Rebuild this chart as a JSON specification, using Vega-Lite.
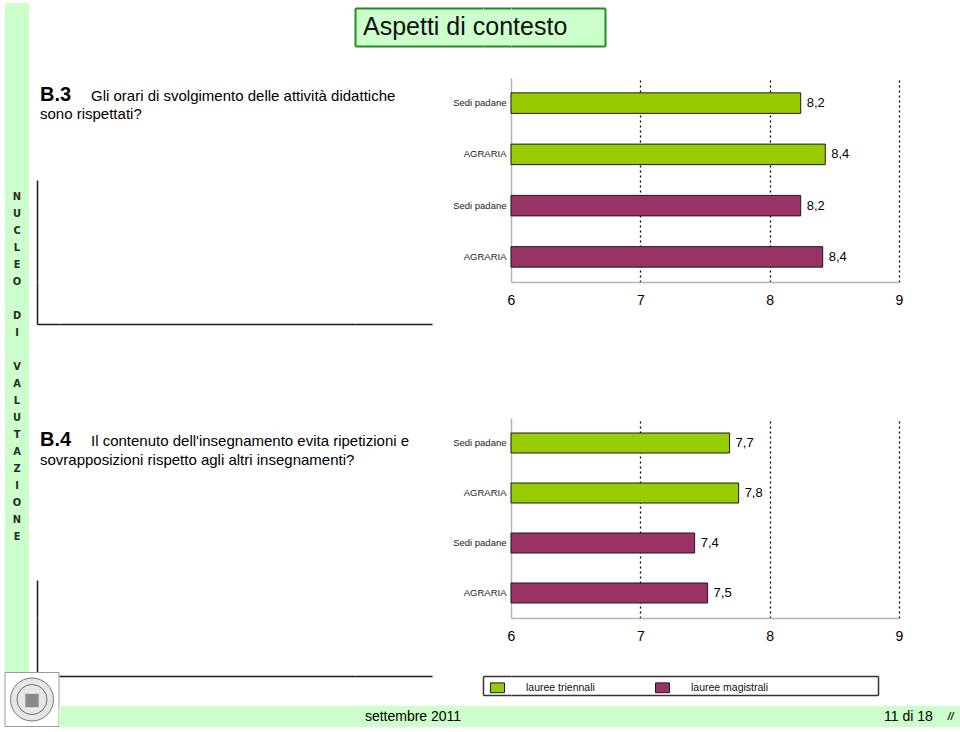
{
  "$schema": "https://vega.github.io/schema/vega-lite/v6.json",
  "background": "white",
  "padding": {"left": 3, "top": 3, "right": 0, "bottom": 0},
  "columns": 8,
  "spacing": 0,
  "bounds": "flush",
  "align": "each",
  "resolve": {"scale": {"color": "independent"}, "legend": {"color": "independent"}},
  "config": {
    "font": "Liberation Sans",
    "view": {"stroke": null},
    "locale": {"number": {"decimal": ",", "thousands": ".", "grouping": [3], "currency": ["€", ""]}}
  },
  "concat": [
    {"width": 24, "height": 5, "data": {"values": [{}]}, "mark": {"type": "point", "opacity": 0, "size": 0}, "view": {"fill": "#ccffcc"}},
    {"width": 1, "height": 1, "data": {"values": [{}]}, "mark": {"type": "point", "opacity": 0, "size": 0}},
    {"width": 1, "height": 1, "data": {"values": [{}]}, "mark": {"type": "point", "opacity": 0, "size": 0}},
    {"width": 1, "height": 1, "data": {"values": [{}]}, "mark": {"type": "point", "opacity": 0, "size": 0}},
    {"width": 1, "height": 1, "data": {"values": [{}]}, "mark": {"type": "point", "opacity": 0, "size": 0}},
    {"width": 1, "height": 1, "data": {"values": [{}]}, "mark": {"type": "point", "opacity": 0, "size": 0}},
    {"width": 1, "height": 1, "data": {"values": [{}]}, "mark": {"type": "point", "opacity": 0, "size": 0}},
    {"width": 1, "height": 1, "data": {"values": [{}]}, "mark": {"type": "point", "opacity": 0, "size": 0}},

    {"width": 24, "height": 38, "data": {"values": [{}]}, "mark": {"type": "point", "opacity": 0, "size": 0}, "view": {"fill": "#ccffcc"}},
    {"width": 1, "height": 1, "data": {"values": [{}]}, "mark": {"type": "point", "opacity": 0, "size": 0}},
    {"width": 1, "height": 1, "data": {"values": [{}]}, "mark": {"type": "point", "opacity": 0, "size": 0}},
    {"width": 1, "height": 1, "data": {"values": [{}]}, "mark": {"type": "point", "opacity": 0, "size": 0}},
    {"width": 128, "height": 38, "view": {"fill": "#ccffcc"}, "data": {"values": [{}]},
     "mark": {"type": "point", "opacity": 0, "size": 0},
     "encoding": {"y": {"datum": 0, "type": "quantitative", "scale": {"domain": [0, 1]},
       "axis": {"orient": "left", "title": null, "labels": false, "ticks": false, "values": [0, 1], "grid": true, "gridColor": "#228b22", "gridWidth": 2, "gridOpacity": 1, "domainColor": "#228b22", "domainWidth": 2}}}},
    {"width": 28, "height": 38, "view": {"fill": "#ccffcc"}, "data": {"values": [{}]},
     "mark": {"type": "point", "opacity": 0, "size": 0},
     "encoding": {"y": {"datum": 0, "type": "quantitative", "scale": {"domain": [0, 1]},
       "axis": {"orient": "left", "title": null, "labels": false, "ticks": false, "values": [0, 1], "grid": true, "gridColor": "#228b22", "gridWidth": 2, "gridOpacity": 1, "domain": false}}}},
    {"width": 94, "height": 38, "view": {"fill": "#ccffcc"}, "data": {"values": [{"t": "Aspetti di contesto"}]},
     "layer": [
       {"mark": {"type": "point", "opacity": 0, "size": 0},
        "encoding": {"y": {"datum": 0, "type": "quantitative", "scale": {"domain": [0, 1]},
          "axis": {"orient": "right", "title": null, "labels": false, "ticks": false, "values": [0, 1], "grid": true, "gridColor": "#228b22", "gridWidth": 2, "gridOpacity": 1, "domainColor": "#228b22", "domainWidth": 2}}}},
       {"mark": {"type": "text", "fontSize": 25, "align": "left", "baseline": "alphabetic", "dx": -195, "dy": 8, "color": "#111"}, "encoding": {"text": {"field": "t"}}}
     ]},
    {"width": 1, "height": 1, "data": {"values": [{}]}, "mark": {"type": "point", "opacity": 0, "size": 0}},

    {"width": 24, "height": 32, "data": {"values": [{}]}, "mark": {"type": "point", "opacity": 0, "size": 0}, "view": {"fill": "#ccffcc"}},
    {"width": 1, "height": 1, "data": {"values": [{}]}, "mark": {"type": "point", "opacity": 0, "size": 0}},
    {"width": 1, "height": 1, "data": {"values": [{}]}, "mark": {"type": "point", "opacity": 0, "size": 0}},
    {"width": 1, "height": 1, "data": {"values": [{}]}, "mark": {"type": "point", "opacity": 0, "size": 0}},
    {"width": 1, "height": 1, "data": {"values": [{}]}, "mark": {"type": "point", "opacity": 0, "size": 0}},
    {"width": 1, "height": 1, "data": {"values": [{}]}, "mark": {"type": "point", "opacity": 0, "size": 0}},
    {"width": 1, "height": 1, "data": {"values": [{}]}, "mark": {"type": "point", "opacity": 0, "size": 0}},
    {"width": 1, "height": 1, "data": {"values": [{}]}, "mark": {"type": "point", "opacity": 0, "size": 0}},

    {"width": 24, "height": 204, "data": {"values": [{}]}, "mark": {"type": "point", "opacity": 0, "size": 0}, "view": {"fill": "#ccffcc"}},
    {"width": 8, "height": 1, "data": {"values": [{}]}, "mark": {"type": "point", "opacity": 0, "size": 0}},
    {"width": 22, "height": 204,
     "data": {"values": [{"b": "B.3", "l1": "Gli orari di svolgimento delle attività didattiche", "l2": "sono rispettati?"}]},
     "layer": [
       {"mark": {"type": "point", "opacity": 0, "size": 0},
        "encoding": {"y": {"datum": 0, "type": "quantitative", "scale": {"domain": [0, 1], "range": [204, 102]},
          "axis": {"title": null, "labels": false, "ticks": false, "grid": false, "domainColor": "#1a1a1a", "domainWidth": 1.5}}}},
       {"mark": {"type": "text", "fontWeight": "bold", "fontSize": 20, "align": "left", "baseline": "alphabetic", "dx": -8, "dy": -79, "color": "#000"}, "encoding": {"text": {"field": "b"}}},
       {"mark": {"type": "text", "fontSize": 15, "align": "left", "baseline": "alphabetic", "dx": 43, "dy": -79, "color": "#000"}, "encoding": {"text": {"field": "l1"}}},
       {"mark": {"type": "text", "fontSize": 15, "align": "left", "baseline": "alphabetic", "dx": -8, "dy": -61, "color": "#000"}, "encoding": {"text": {"field": "l2"}}}
     ]},
    {"width": 296, "height": 1, "data": {"values": [{}]}, "mark": {"type": "point", "opacity": 0, "size": 0}},
    {"width": 128, "height": 1, "data": {"values": [{}]}, "mark": {"type": "point", "opacity": 0, "size": 0}},
    {"width": 28, "height": 1, "data": {"values": [{}]}, "mark": {"type": "point", "opacity": 0, "size": 0}},
    {"width": 388, "height": 204,
     "data": {"values": [
       {"key": "Sedi padane · T", "tipo": "lauree triennali", "valore": 8.24},
       {"key": "AGRARIA · T", "tipo": "lauree triennali", "valore": 8.43},
       {"key": "Sedi padane · M", "tipo": "lauree magistrali", "valore": 8.24},
       {"key": "AGRARIA · M", "tipo": "lauree magistrali", "valore": 8.41}
     ]},
     "encoding": {
       "y": {"field": "key", "type": "nominal", "sort": null, "scale": {"paddingInner": 0.6, "paddingOuter": 0.29},
         "axis": {"title": null, "labelExpr": "split(datum.label, ' · ')[0]", "ticks": false, "domainColor": "#b3b3b3", "domainWidth": 1.5, "labelFontSize": 9.5, "labelColor": "#222", "labelPadding": 5}},
       "x": {"field": "valore", "type": "quantitative", "scale": {"domain": [6, 9], "nice": false, "zero": false},
         "axis": {"title": null, "values": [6, 7, 8, 9], "ticks": false, "domainColor": "#b3b3b3", "domainWidth": 1.5, "labelFontSize": 14, "labelColor": "#000", "labelPadding": 11, "labelFlush": false, "format": "d",
           "grid": true, "gridColor": "#000", "gridDash": [2, 3], "gridWidth": 1.3,
           "gridOpacity": {"condition": {"test": "datum.value === 6", "value": 0}, "value": 1}}}
     },
     "layer": [
       {"mark": {"type": "bar", "stroke": "#1a1a1a", "strokeWidth": 1},
        "encoding": {"x2": {"datum": 6},
          "color": {"field": "tipo", "type": "nominal", "scale": {"domain": ["lauree triennali", "lauree magistrali"], "range": ["#99cc00", "#993366"]}, "legend": null}}},
       {"mark": {"type": "text", "align": "left", "baseline": "middle", "dx": 6, "fontSize": 13, "color": "#000"},
        "encoding": {"text": {"field": "valore", "type": "quantitative", "format": ".1f"}}}
     ]},
    {"width": 63, "height": 1, "data": {"values": [{}]}, "mark": {"type": "point", "opacity": 0, "size": 0}},

    {"width": 24, "height": 42, "data": {"values": [{}]}, "mark": {"type": "point", "opacity": 0, "size": 0}, "view": {"fill": "#ccffcc"}},
    {"width": 1, "height": 1, "data": {"values": [{}]}, "mark": {"type": "point", "opacity": 0, "size": 0}},
    {"width": 22, "height": 42, "data": {"values": [{}]},
     "mark": {"type": "point", "opacity": 0, "size": 0},
     "encoding": {
       "x": {"datum": 0, "type": "quantitative", "scale": {"domain": [0, 1]}, "axis": {"title": null, "labels": false, "ticks": false, "grid": false, "domainColor": "#1a1a1a", "domainWidth": 1.5}},
       "y": {"datum": 0, "type": "quantitative", "scale": {"domain": [0, 1]}, "axis": {"title": null, "labels": false, "ticks": false, "grid": false, "domainColor": "#1a1a1a", "domainWidth": 1.5}}
     }},
    {"width": 296, "height": 42, "data": {"values": [{}]},
     "mark": {"type": "point", "opacity": 0, "size": 0},
     "encoding": {"x": {"datum": 0, "type": "quantitative", "scale": {"domain": [0, 1]}, "axis": {"title": null, "labels": false, "ticks": false, "grid": false, "domainColor": "#1a1a1a", "domainWidth": 1.5}}}},
    {"width": 77, "height": 42, "data": {"values": [{}]},
     "mark": {"type": "point", "opacity": 0, "size": 0},
     "encoding": {"x": {"datum": 0, "type": "quantitative", "scale": {"domain": [0, 1]}, "axis": {"title": null, "labels": false, "ticks": false, "grid": false, "domainColor": "#1a1a1a", "domainWidth": 1.5}}}},
    {"width": 1, "height": 1, "data": {"values": [{}]}, "mark": {"type": "point", "opacity": 0, "size": 0}},
    {"width": 1, "height": 1, "data": {"values": [{}]}, "mark": {"type": "point", "opacity": 0, "size": 0}},
    {"width": 1, "height": 1, "data": {"values": [{}]}, "mark": {"type": "point", "opacity": 0, "size": 0}},

    {"width": 24, "height": 94, "data": {"values": [{}]}, "mark": {"type": "point", "opacity": 0, "size": 0}, "view": {"fill": "#ccffcc"}},
    {"width": 1, "height": 1, "data": {"values": [{}]}, "mark": {"type": "point", "opacity": 0, "size": 0}},
    {"width": 1, "height": 1, "data": {"values": [{}]}, "mark": {"type": "point", "opacity": 0, "size": 0}},
    {"width": 1, "height": 1, "data": {"values": [{}]}, "mark": {"type": "point", "opacity": 0, "size": 0}},
    {"width": 1, "height": 1, "data": {"values": [{}]}, "mark": {"type": "point", "opacity": 0, "size": 0}},
    {"width": 1, "height": 1, "data": {"values": [{}]}, "mark": {"type": "point", "opacity": 0, "size": 0}},
    {"width": 1, "height": 1, "data": {"values": [{}]}, "mark": {"type": "point", "opacity": 0, "size": 0}},
    {"width": 1, "height": 1, "data": {"values": [{}]}, "mark": {"type": "point", "opacity": 0, "size": 0}},

    {"width": 24, "height": 200, "data": {"values": [{}]},
     "view": {"fill": "#ccffcc"},
     "layer": [
       {"mark": {"type": "text", "text": ["N", "U", "C", "L", "E", "O"],
         "font": "DejaVu Sans Condensed, Liberation Sans, sans-serif", "fontWeight": "bold", "fontSize": 11, "lineHeight": 17, "align": "center", "baseline": "middle", "dy": -321, "color": "#2a2a2a"}},
       {"mark": {"type": "text", "text": ["D", "I"],
         "font": "DejaVu Sans Condensed, Liberation Sans, sans-serif", "fontWeight": "bold", "fontSize": 11, "lineHeight": 17, "align": "center", "baseline": "middle", "dy": -202, "color": "#2a2a2a"}},
       {"mark": {"type": "text", "text": ["V", "A", "L", "U", "T", "A", "Z", "I", "O", "N", "E"],
         "font": "DejaVu Sans Condensed, Liberation Sans, sans-serif", "fontWeight": "bold", "fontSize": 11, "lineHeight": 17, "align": "center", "baseline": "middle", "dy": -151, "color": "#2a2a2a"}}
     ]},
    {"width": 1, "height": 1, "data": {"values": [{}]}, "mark": {"type": "point", "opacity": 0, "size": 0}},
    {"width": 22, "height": 200,
     "data": {"values": [{"b": "B.4", "l1": "Il contenuto dell'insegnamento evita ripetizioni e", "l2": "sovrapposizioni rispetto agli altri insegnamenti?"}]},
     "layer": [
       {"mark": {"type": "point", "opacity": 0, "size": 0},
        "encoding": {"y": {"datum": 0, "type": "quantitative", "scale": {"domain": [0, 1], "range": [200, 162]},
          "axis": {"title": null, "labels": false, "ticks": false, "grid": false, "domainColor": "#1a1a1a", "domainWidth": 1.5}}}},
       {"mark": {"type": "text", "fontWeight": "bold", "fontSize": 20, "align": "left", "baseline": "alphabetic", "dx": -8, "dy": -72, "color": "#000"}, "encoding": {"text": {"field": "b"}}},
       {"mark": {"type": "text", "fontSize": 15, "align": "left", "baseline": "alphabetic", "dx": 43, "dy": -72, "color": "#000"}, "encoding": {"text": {"field": "l1"}}},
       {"mark": {"type": "text", "fontSize": 15, "align": "left", "baseline": "alphabetic", "dx": -8, "dy": -53, "color": "#000"}, "encoding": {"text": {"field": "l2"}}}
     ]},
    {"width": 1, "height": 1, "data": {"values": [{}]}, "mark": {"type": "point", "opacity": 0, "size": 0}},
    {"width": 1, "height": 1, "data": {"values": [{}]}, "mark": {"type": "point", "opacity": 0, "size": 0}},
    {"width": 1, "height": 1, "data": {"values": [{}]}, "mark": {"type": "point", "opacity": 0, "size": 0}},
    {"width": 388, "height": 200,
     "data": {"values": [
       {"key": "Sedi padane · T", "tipo": "lauree triennali", "valore": 7.69},
       {"key": "AGRARIA · T", "tipo": "lauree triennali", "valore": 7.76},
       {"key": "Sedi padane · M", "tipo": "lauree magistrali", "valore": 7.42},
       {"key": "AGRARIA · M", "tipo": "lauree magistrali", "valore": 7.52}
     ]},
     "encoding": {
       "y": {"field": "key", "type": "nominal", "sort": null, "scale": {"paddingInner": 0.6, "paddingOuter": 0.3},
         "axis": {"title": null, "labelExpr": "split(datum.label, ' · ')[0]", "ticks": false, "domainColor": "#b3b3b3", "domainWidth": 1.5, "labelFontSize": 9.5, "labelColor": "#222", "labelPadding": 5}},
       "x": {"field": "valore", "type": "quantitative", "scale": {"domain": [6, 9], "nice": false, "zero": false},
         "axis": {"title": null, "values": [6, 7, 8, 9], "ticks": false, "domainColor": "#b3b3b3", "domainWidth": 1.5, "labelFontSize": 14, "labelColor": "#000", "labelPadding": 11, "labelFlush": false, "format": "d",
           "grid": true, "gridColor": "#000", "gridDash": [2, 3], "gridWidth": 1.3,
           "gridOpacity": {"condition": {"test": "datum.value === 6", "value": 0}, "value": 1}}}
     },
     "layer": [
       {"mark": {"type": "bar", "stroke": "#1a1a1a", "strokeWidth": 1},
        "encoding": {"x2": {"datum": 6},
          "color": {"field": "tipo", "type": "nominal", "scale": {"domain": ["lauree triennali", "lauree magistrali"], "range": ["#99cc00", "#993366"]},
          "legend": {"title": null, "orient": "none", "legendX": -21, "legendY": 262, "direction": "horizontal",
            "symbolType": "M-1,-0.7H1V0.7H-1Z", "symbolSize": 196, "symbolStrokeColor": "#1a1a1a", "symbolStrokeWidth": 1,
            "labelFontSize": 10.5, "labelColor": "#111", "labelOffset": 21, "columnPadding": 58, "padding": 0}}}},
       {"mark": {"type": "text", "align": "left", "baseline": "middle", "dx": 6, "fontSize": 13, "color": "#000"},
        "encoding": {"text": {"field": "valore", "type": "quantitative", "format": ".1f"}}}
     ]},
    {"width": 1, "height": 1, "data": {"values": [{}]}, "mark": {"type": "point", "opacity": 0, "size": 0}},

    {"width": 24, "height": 54, "data": {"values": [{}]}, "mark": {"type": "point", "opacity": 0, "size": 0}, "view": {"fill": "#ccffcc"}},
    {"width": 1, "height": 1, "data": {"values": [{}]}, "mark": {"type": "point", "opacity": 0, "size": 0}},
    {"width": 22, "height": 54, "data": {"values": [{}]},
     "mark": {"type": "point", "opacity": 0, "size": 0},
     "encoding": {"y": {"datum": 0, "type": "quantitative", "scale": {"domain": [0, 1]}, "axis": {"title": null, "labels": false, "ticks": false, "grid": false, "domainColor": "#1a1a1a", "domainWidth": 1.5}}}},
    {"width": 1, "height": 1, "data": {"values": [{}]}, "mark": {"type": "point", "opacity": 0, "size": 0}},
    {"width": 1, "height": 1, "data": {"values": [{}]}, "mark": {"type": "point", "opacity": 0, "size": 0}},
    {"width": 1, "height": 1, "data": {"values": [{}]}, "mark": {"type": "point", "opacity": 0, "size": 0}},
    {"width": 1, "height": 1, "data": {"values": [{}]}, "mark": {"type": "point", "opacity": 0, "size": 0}},
    {"width": 1, "height": 1, "data": {"values": [{}]}, "mark": {"type": "point", "opacity": 0, "size": 0}},

    {"width": 1, "height": 1, "data": {"values": [{}]}, "mark": {"type": "point", "opacity": 0, "size": 0}},
    {"width": 1, "height": 1, "data": {"values": [{}]}, "mark": {"type": "point", "opacity": 0, "size": 0}},
    {"width": 1, "height": 1, "data": {"values": [{}]}, "mark": {"type": "point", "opacity": 0, "size": 0}},
    {"width": 296, "height": 4, "data": {"values": [{}]},
     "mark": {"type": "point", "opacity": 0, "size": 0},
     "encoding": {"x": {"datum": 0, "type": "quantitative", "scale": {"domain": [0, 1]}, "axis": {"title": null, "labels": false, "ticks": false, "grid": false, "domainColor": "#1a1a1a", "domainWidth": 1.5}}}},
    {"width": 77, "height": 4, "data": {"values": [{}]},
     "mark": {"type": "point", "opacity": 0, "size": 0},
     "encoding": {"x": {"datum": 0, "type": "quantitative", "scale": {"domain": [0, 1]}, "axis": {"title": null, "labels": false, "ticks": false, "grid": false, "domainColor": "#1a1a1a", "domainWidth": 1.5}}}},
    {"width": 1, "height": 1, "data": {"values": [{}]}, "mark": {"type": "point", "opacity": 0, "size": 0}},
    {"width": 1, "height": 1, "data": {"values": [{}]}, "mark": {"type": "point", "opacity": 0, "size": 0}},
    {"width": 1, "height": 1, "data": {"values": [{}]}, "mark": {"type": "point", "opacity": 0, "size": 0}},

    {"width": 1, "height": 1, "data": {"values": [{}]}, "mark": {"type": "point", "opacity": 0, "size": 0}},
    {"width": 1, "height": 1, "data": {"values": [{}]}, "mark": {"type": "point", "opacity": 0, "size": 0}},
    {"width": 1, "height": 1, "data": {"values": [{}]}, "mark": {"type": "point", "opacity": 0, "size": 0}},
    {"width": 1, "height": 1, "data": {"values": [{}]}, "mark": {"type": "point", "opacity": 0, "size": 0}},
    {"width": 1, "height": 1, "data": {"values": [{}]}, "mark": {"type": "point", "opacity": 0, "size": 0}},
    {"width": 28, "height": 19, "data": {"values": [{}]},
     "mark": {"type": "point", "opacity": 0, "size": 0},
     "encoding": {"y": {"datum": 0, "type": "quantitative", "scale": {"domain": [0, 1]},
       "axis": {"orient": "left", "title": null, "labels": false, "ticks": false, "values": [0, 1], "grid": true, "gridColor": "#333333", "gridWidth": 1.5, "gridOpacity": 1, "domainColor": "#333333", "domainWidth": 1.5}}}},
    {"width": 367, "height": 19, "data": {"values": [{}]},
     "mark": {"type": "point", "opacity": 0, "size": 0},
     "encoding": {"y": {"datum": 0, "type": "quantitative", "scale": {"domain": [0, 1]},
       "axis": {"orient": "right", "title": null, "labels": false, "ticks": false, "values": [0, 1], "grid": true, "gridColor": "#333333", "gridWidth": 1.5, "gridOpacity": 1, "domainColor": "#333333", "domainWidth": 1.5}}}},
    {"width": 1, "height": 30, "data": {"values": [{}]}, "mark": {"type": "point", "opacity": 0, "size": 0}},

    {"width": 1, "height": 1, "data": {"values": [{}]}, "mark": {"type": "point", "opacity": 0, "size": 0}},
    {"width": 8, "height": 21, "data": {"values": [{}]},
     "layer": [
       {"mark": {"type": "point", "shape": "square", "size": 2916, "filled": true, "fill": "#ffffff", "stroke": "#9a9a9a", "strokeWidth": 1, "opacity": 1, "xOffset": -1, "yOffset": -17}},
       {"mark": {"type": "point", "shape": "circle", "size": 1850, "filled": true, "fill": "#e6e6e6", "stroke": "#777777", "strokeWidth": 1, "opacity": 1, "xOffset": -1, "yOffset": -17}},
       {"mark": {"type": "point", "shape": "circle", "size": 900, "filled": false, "stroke": "#6a6a6a", "strokeWidth": 1, "opacity": 1, "xOffset": -1, "yOffset": -17}},
       {"mark": {"type": "point", "shape": "square", "size": 180, "filled": true, "fill": "#8a8a8a", "opacity": 1, "xOffset": -1, "yOffset": -16}}
     ]},
    {"width": 1, "height": 1, "data": {"values": [{}]}, "mark": {"type": "point", "opacity": 0, "size": 0}},
    {"width": 296, "height": 21, "data": {"values": [{}]}, "mark": {"type": "point", "opacity": 0, "size": 0}, "view": {"fill": "#ccffcc"}},
    {"width": 128, "height": 21, "data": {"values": [{"t": "settembre 2011"}]}, "view": {"fill": "#ccffcc"},
     "mark": {"type": "text", "fontSize": 14, "align": "center", "baseline": "middle", "dx": -6, "color": "#000"}, "encoding": {"text": {"field": "t"}}},
    {"width": 28, "height": 21, "data": {"values": [{}]}, "mark": {"type": "point", "opacity": 0, "size": 0}, "view": {"fill": "#ccffcc"}},
    {"width": 388, "height": 21, "data": {"values": [{}]}, "mark": {"type": "point", "opacity": 0, "size": 0}, "view": {"fill": "#ccffcc"}},
    {"width": 63, "height": 21, "data": {"values": [{"t": "11 di 18", "i": "//"}]}, "view": {"fill": "#ccffcc"},
     "layer": [
       {"mark": {"type": "text", "fontSize": 14, "align": "center", "baseline": "middle", "dx": -22, "color": "#000"}, "encoding": {"text": {"field": "t"}}},
       {"mark": {"type": "text", "fontSize": 11, "fontStyle": "italic", "fontWeight": "bold", "align": "center", "baseline": "middle", "dx": 20, "color": "#333"}, "encoding": {"text": {"field": "i"}}}
     ]}
  ]
}
